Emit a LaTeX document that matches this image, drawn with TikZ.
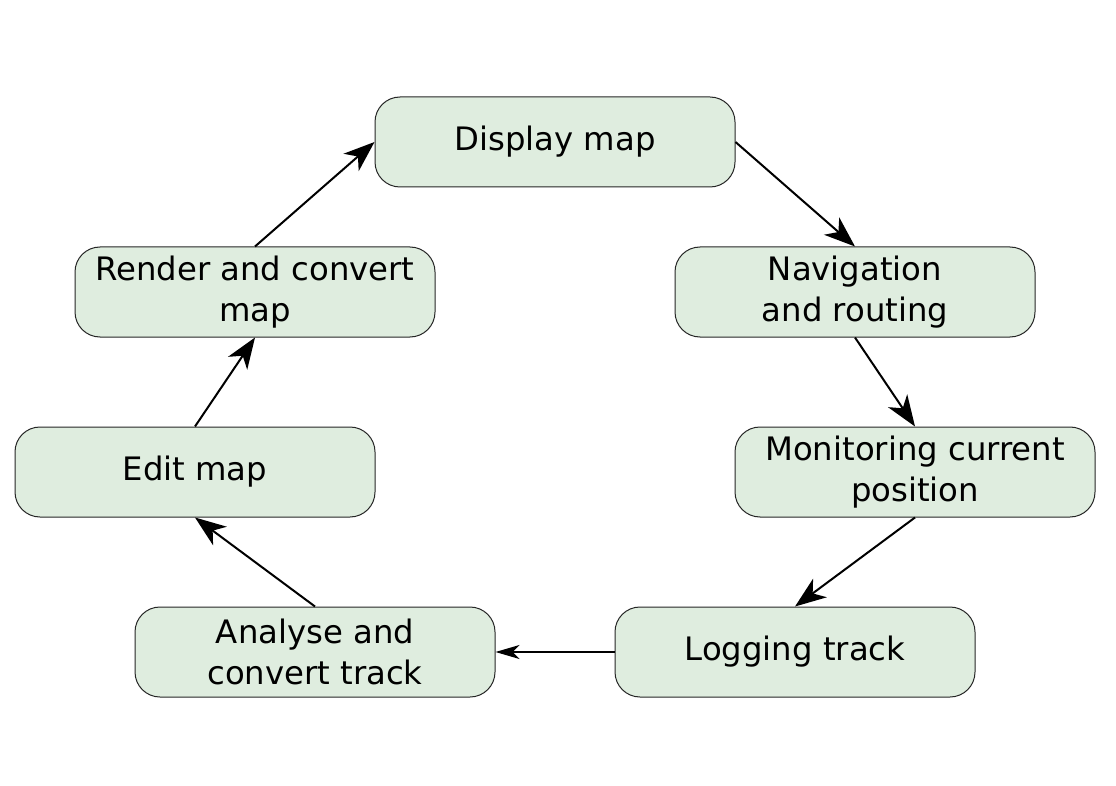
\documentclass[tikz,border=0pt]{standalone}
\usepackage{fontspec}
\setmainfont{DejaVu Sans}
\usetikzlibrary{arrows.meta}
\definecolor{boxfill}{HTML}{DFEDDF}
\begin{document}
\begin{tikzpicture}[x=1pt,y=-1pt,
  stepbox/.style={draw=black!85, line width=1pt, fill=boxfill, rounded corners=25pt,
    minimum width=360pt, minimum height=90pt, inner sep=0pt, align=center,
    font=\fontsize{32.3}{40.5}\selectfont},
  flow/.style={line width=2pt, -{Stealth[length=31pt,width=23pt,inset=9pt]}},
  thinflow/.style={line width=1.3pt, -{Stealth[length=24pt,width=14pt,inset=7pt]}}]
\useasboundingbox (0,0) rectangle (1116,786);
\node[stepbox] (disp) at (555,142) {Display map};
\node[stepbox] (nav) at (855,292) {Navigation\\and routing};
\node[stepbox] (mon) at (915,472) {Monitoring current\\position};
\node[stepbox] (log) at (795,652) {Logging track};
\node[stepbox] (ana) at (315,652) {Analyse and\\convert track};
\node[stepbox] (edit) at (195,472) {Edit map};
\node[stepbox] (rend) at (255,292) {Render and convert\\map};
\draw[flow] (disp.east) -- (nav.north);
\draw[flow] (nav.south) -- (mon.north);
\draw[flow] (mon.south) -- (log.north);
\draw[thinflow] (log.west) -- (ana.east);
\draw[flow] (ana.north) -- (edit.south);
\draw[flow] (edit.north) -- (rend.south);
\draw[flow] (rend.north) -- (disp.west);
\end{tikzpicture}
\end{document}
